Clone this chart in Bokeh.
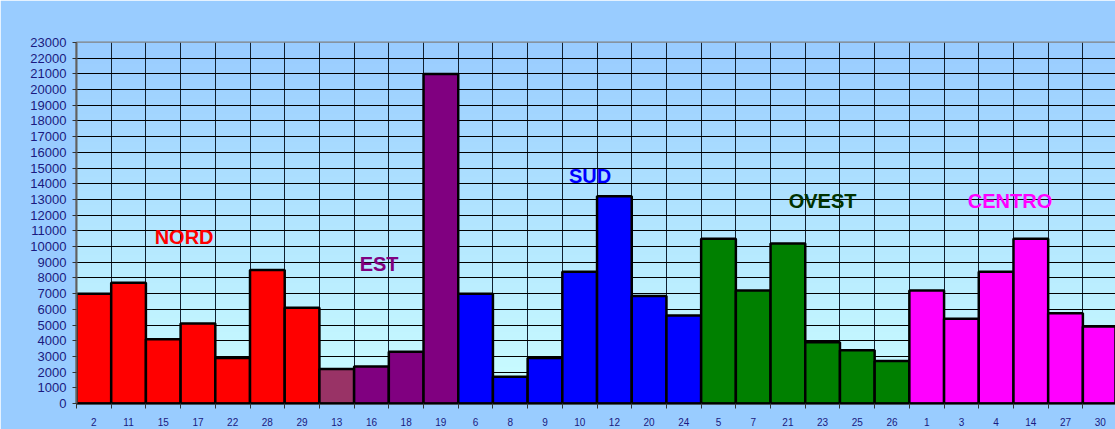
import numpy as np
from bokeh.plotting import figure
from bokeh.models import Range1d, FixedTicker, Label, BasicTickFormatter, BoxAnnotation
from bokeh.embed import file_html
from bokeh.resources import INLINE

# ---- data ----
categories = ["2", "11", "15", "17", "22", "28", "29",
              "13", "16", "18", "19",
              "6", "8", "9", "10", "12", "20", "24",
              "5", "7", "21", "23", "25", "26",
              "1", "3", "4", "14", "27", "30"]
values = [7000, 7700, 4100, 5100, 2900, 8500, 6100,
          2200, 2350, 3300, 21000,
          7000, 1700, 2900, 8400, 13200, 6850, 5600,
          10500, 7200, 10200, 3900, 3400, 2700,
          7200, 5400, 8400, 10500, 5750, 4900]
regions = ["NORD"] * 7 + ["EST"] * 4 + ["SUD"] * 7 + ["OVEST"] * 6 + ["CENTRO"] * 6
region_names = ["NORD", "EST", "SUD", "OVEST", "CENTRO"]
y_ticks = list(range(0, 23001, 1000))

# ---- styles ----
bar_colors = {"NORD": "#FF0000", "EST": "#800080", "SUD": "#0000FF",
              "OVEST": "#008000", "CENTRO": "#FF00FF"}
label_colors = {"NORD": "#FF0000", "EST": "#800080", "SUD": "#0000FF",
                "OVEST": "#003300", "CENTRO": "#FF00FF"}
colors = [bar_colors[r] for r in regions]
colors[categories.index("13")] = "#993366"

n = len(categories)
xc = np.arange(n) + 0.5
bounds = list(range(0, n + 1))

W, H = 1115, 429
p = figure(width=W, height=H, output_backend="svg", toolbar_location=None,
           x_range=Range1d(0, 29.94), y_range=Range1d(0, 23000),
           min_border_left=76, min_border_top=42, min_border_right=0,
           min_border_bottom=26)
p.border_fill_color = "#99CCFF"
p.background_fill_color = "#99CCFF"
p.outline_line_color = "#808080"
p.outline_line_width = 2

# gradient background of plot area
rows = 256
top = np.array([153, 204, 255], dtype=float)
bot = np.array([204, 255, 255], dtype=float)
t = np.linspace(0, 1, rows)[:, None]
rgb = bot * (1 - t) + top * t
img = np.zeros((rows, 1), dtype=np.uint32)
view = img.view(dtype=np.uint8).reshape((rows, 1, 4))
view[:, 0, 0] = rgb[:, 0].astype(np.uint8)
view[:, 0, 1] = rgb[:, 1].astype(np.uint8)
view[:, 0, 2] = rgb[:, 2].astype(np.uint8)
view[:, 0, 3] = 255
p.image_rgba(image=[img], x=0, y=0, dw=n, dh=23000, level="image")

# grids
p.ygrid.ticker = FixedTicker(ticks=y_ticks)
p.ygrid.grid_line_color = "#000000"
p.ygrid.grid_line_width = 1
p.xgrid.ticker = FixedTicker(ticks=bounds)
p.xgrid.grid_line_color = "#102030"
p.xgrid.grid_line_width = 1

# bars
p.vbar(x=xc, top=values, width=1.0, bottom=0, fill_color=colors,
       line_color="#000000", line_width=2.5)

# axes
p.yaxis.ticker = FixedTicker(ticks=y_ticks)
p.yaxis.formatter = BasicTickFormatter(use_scientific=False)
p.yaxis.major_label_text_font = "Liberation Sans"
p.yaxis.major_label_text_font_size = "13px"
p.yaxis.major_label_text_color = "#1a1a80"
p.yaxis.axis_line_color = "#606060"
p.yaxis.axis_line_width = 2
p.yaxis.major_tick_line_color = "#333333"
p.yaxis.major_tick_out = 4
p.yaxis.major_tick_in = 0
p.yaxis.minor_tick_line_color = None
p.yaxis.major_label_standoff = 6

p.xaxis.ticker = FixedTicker(ticks=list(xc), minor_ticks=bounds)
p.xaxis.major_label_overrides = {float(x): c for x, c in zip(xc, categories)}
p.xaxis.major_label_text_font = "Liberation Sans"
p.xaxis.major_label_text_font_size = "10px"
p.xaxis.major_label_text_color = "#1a1a80"
p.xaxis.axis_line_color = "#000000"
p.xaxis.axis_line_width = 2
p.xaxis.major_tick_out = 0
p.xaxis.major_tick_in = 0
p.xaxis.minor_tick_out = 5
p.xaxis.minor_tick_in = 0
p.xaxis.minor_tick_line_color = "#333333"
p.xaxis.major_label_standoff = 9

# region labels
label_pos = {"NORD": (3.1, 10600), "EST": (8.72, 8900), "SUD": (14.8, 14500),
             "OVEST": (21.5, 12900), "CENTRO": (26.9, 12900)}
for r in region_names:
    lx, ly = label_pos[r]
    p.add_layout(Label(x=lx, y=ly, text=r, text_align="center",
                       text_baseline="middle", text_font="Liberation Sans",
                       text_font_style="bold", text_font_size="20px",
                       text_color=label_colors[r]))

# white strip above and at left of the chart area, with a black edge
u = dict(left_units="canvas", right_units="canvas",
         top_units="canvas", bottom_units="canvas", line_color=None,
         fill_alpha=1.0, level="overlay")
p.add_layout(BoxAnnotation(left=0, right=W, top=0, bottom=10,
                           fill_color="white", **u))
p.add_layout(BoxAnnotation(left=0, right=6, top=0, bottom=H,
                           fill_color="white", **u))
p.add_layout(BoxAnnotation(left=6, right=W, top=10, bottom=11,
                           fill_color="black", **u))
p.add_layout(BoxAnnotation(left=6, right=7, top=10, bottom=H,
                           fill_color="black", **u))

open("out.html", "w").write(file_html(p, INLINE))
